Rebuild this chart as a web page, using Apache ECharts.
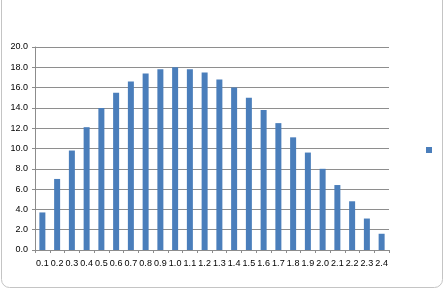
<!DOCTYPE html>
<html><head><meta charset="utf-8">
<script src="https://cdn.jsdelivr.net/npm/echarts@6/dist/echarts.min.js"></script>
<style>html,body{margin:0;padding:0;background:#fff}#c{width:444px;height:289px}</style>
</head><body><div id="c"></div>
<script>
const categories = ['0.1','0.2','0.3','0.4','0.5','0.6','0.7','0.8','0.9','1.0','1.1','1.2','1.3','1.4','1.5','1.6','1.7','1.8','1.9','2.0','2.1','2.2','2.3','2.4'];
const values = [3.7,7.0,9.8,12.1,14.0,15.5,16.6,17.4,17.8,18.0,17.8,17.5,16.8,16.0,15.0,13.8,12.5,11.1,9.6,8.0,6.4,4.8,3.1,1.6];
const yMin = 0, yMax = 20, yStep = 2;

const chart = echarts.init(document.getElementById('c'), null, {renderer:'canvas'});
chart.setOption({
  animation:false,
  backgroundColor:'#fff',
  graphic:[{type:'rect', shape:{x:1.5, y:-10, width:441, height:297.5, r:8},
    style:{fill:null, stroke:'#c4c4c4', lineWidth:1}, silent:true}],
  legend:{show:true, left:426, top:147, padding:0, itemWidth:6, itemHeight:6, icon:'rect',
    formatter:()=> '', data:['Series1'], textStyle:{fontSize:1}},
  grid:{left:35, right:55, top:47, bottom:39},
  xAxis:{type:'category', data:categories, boundaryGap:true,
    axisLine:{lineStyle:{color:'#8c8c8c'}},
    axisTick:{show:true, alignWithLabel:false, length:3, lineStyle:{color:'#8c8c8c'}},
    axisLabel:{margin:9, fontSize:9, color:'#000', fontFamily:'Liberation Sans', interval:0}},
  yAxis:{type:'value', min:yMin, max:yMax, interval:yStep,
    axisLine:{show:true, lineStyle:{color:'#8c8c8c'}},
    axisTick:{show:true, length:3, lineStyle:{color:'#8c8c8c'}},
    splitLine:{lineStyle:{color:'#8e8e8e'}},
    axisLabel:{margin:7, fontSize:9, color:'#000', fontFamily:'Liberation Sans',
      formatter:v=>v.toFixed(1)}},
  series:[{name:'Series1', type:'bar', data:values, barWidth:6,
    itemStyle:{color:'#4a7ebb'}}]
});
</script></body></html>
